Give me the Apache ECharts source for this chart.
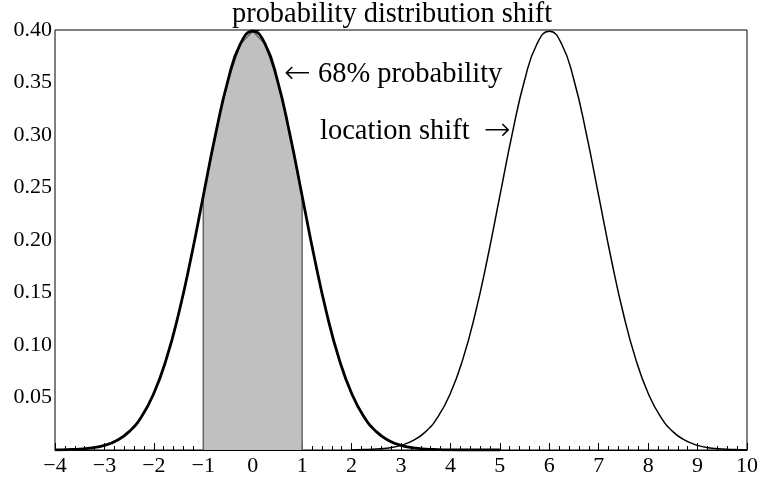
<!DOCTYPE html>
<html>
<head>
<meta charset="utf-8">
<script src="https://cdn.jsdelivr.net/npm/echarts@6/dist/echarts.min.js"></script>
<style>
  html, body { margin: 0; padding: 0; background: #fff; }
  #dv { width: 761px; height: 478px; }
</style>
</head>
<body>
<div id="dv"></div>
<script>
// values
const baseX = [-4, -3.75, -3.5, -3.25, -3, -2.75, -2.5, -2.25, -2, -1.75, -1.5, -1.25, -1, -0.75, -0.5, -0.25,
  0, 0.25, 0.5, 0.75, 1, 1.25, 1.5, 1.75, 2, 2.25, 2.5, 2.75, 3, 3.25, 3.5, 3.75, 4, 4.25, 4.5, 4.75, 5]
const baseY = [0.0001, 0.0004, 0.0009, 0.0020, 0.0044, 0.0091, 0.0175, 0.0317, 0.0540, 0.0863, 0.1295, 0.1826, 0.2420, 0.3011, 0.3521, 0.3867,
  0.3989, 0.3867, 0.3521, 0.3011, 0.2420, 0.1826, 0.1295, 0.0863, 0.0540, 0.0317, 0.0175, 0.0091, 0.0044, 0.0020, 0.0009, 0.0004, 0.0001, 0, 0, 0, 0]
const shiftX = [2, 2.25, 2.5, 2.75, 3, 3.25, 3.5, 3.75, 4, 4.25, 4.5, 4.75, 5, 5.25, 5.5, 5.75,
  6, 6.25, 6.5, 6.75, 7, 7.25, 7.5, 7.75, 8, 8.25, 8.5, 8.75, 9, 9.25, 9.5, 9.75, 10]
const shiftY = [0.0001, 0.0004, 0.0009, 0.0020, 0.0044, 0.0091, 0.0175, 0.0317, 0.0540, 0.0863, 0.1295, 0.1826, 0.2420, 0.3011, 0.3521, 0.3867,
  0.3989, 0.3867, 0.3521, 0.3011, 0.2420, 0.1826, 0.1295, 0.0863, 0.0540, 0.0317, 0.0175, 0.0091, 0.0044, 0.0020, 0.0009, 0.0004, 0.0001]
const shadeX = [-1, -1, -0.75, -0.5, -0.25, 0, 0.25, 0.5, 0.75, 1, 1]
const shadeY = [0, 0.2420, 0.3011, 0.3521, 0.3867, 0.3989, 0.3867, 0.3521, 0.3011, 0.2420, 0]
const yTicks = [0.05, 0.10, 0.15, 0.20, 0.25, 0.30, 0.35, 0.40]

const font = 'Liberation Serif'
const zip = (xs, ys) => xs.map((x, i) => [x, ys[i]])
const annoRich = {
  t: { fontFamily: font, fontSize: 28.5, color: '#000' },
  a: { fontFamily: 'DejaVu Sans', fontSize: 32, color: '#000', fontWeight: 'lighter' }
}

const chart = echarts.init(document.getElementById('dv'))
chart.setOption({
  animation: false,
  title: {
    text: 'probability distribution shift',
    left: 232,
    top: 0,
    padding: 0,
    textStyle: { fontFamily: font, fontSize: 28.4, fontWeight: 'normal', color: '#000', lineHeight: 30 }
  },
  grid: {
    left: 55, right: 13, top: 30, bottom: 28,
    show: true, borderColor: '#000', borderWidth: 1
  },
  xAxis: {
    type: 'value', min: -4, max: 10, interval: 1,
    axisLine: { lineStyle: { color: '#000', width: 1 } },
    axisTick: { inside: true, length: 7, lineStyle: { color: '#000' } },
    minorTick: { show: true, splitNumber: 5, length: 4, lineStyle: { color: '#000' } },
    splitLine: { show: false },
    axisLabel: {
      fontFamily: font, fontSize: 22, color: '#000', margin: 5,
      formatter: v => String(v).replace('-', '\u2212')
    }
  },
  yAxis: {
    type: 'value', min: 0, max: 0.4, interval: 0.05,
    axisLine: { show: true, lineStyle: { color: '#000', width: 1 } },
    axisTick: { show: true, inside: true, length: 7, lineStyle: { color: '#000' } },
    minorTick: { show: true, splitNumber: 5, length: 4, lineStyle: { color: '#000' } },
    splitLine: { show: false },
    axisLabel: {
      fontFamily: font, fontSize: 22, color: '#000', margin: 3,
      formatter: v => yTicks.some(t => Math.abs(t - v) < 1e-9) ? v.toFixed(2) : ''
    }
  },
  series: [
    {
      type: 'line',
      data: zip(shadeX, shadeY),
      symbol: 'none',
      lineStyle: { color: '#666', width: 1.5 },
      areaStyle: { color: '#c0c0c0', opacity: 1 },
      z: 1
    },
    {
      type: 'line',
      data: zip(shiftX, shiftY),
      smooth: true,
      symbol: 'none',
      lineStyle: { color: '#000', width: 1.5 },
      z: 2
    },
    {
      type: 'line',
      data: zip(baseX, baseY),
      smooth: true,
      symbol: 'none',
      lineStyle: { color: '#000', width: 2.8 },
      z: 3
    }
  ],
  graphic: [
    {
      type: 'text', x: 284, y: 75,
      style: { text: '{a|\u2190}{t| 68% probability}', rich: annoRich, verticalAlign: 'middle' }
    },
    {
      type: 'text', x: 320, y: 132,
      style: { text: '{t|location shift  }{a|\u2192}', rich: annoRich, verticalAlign: 'middle' }
    }
  ]
})
</script>
</body>
</html>
